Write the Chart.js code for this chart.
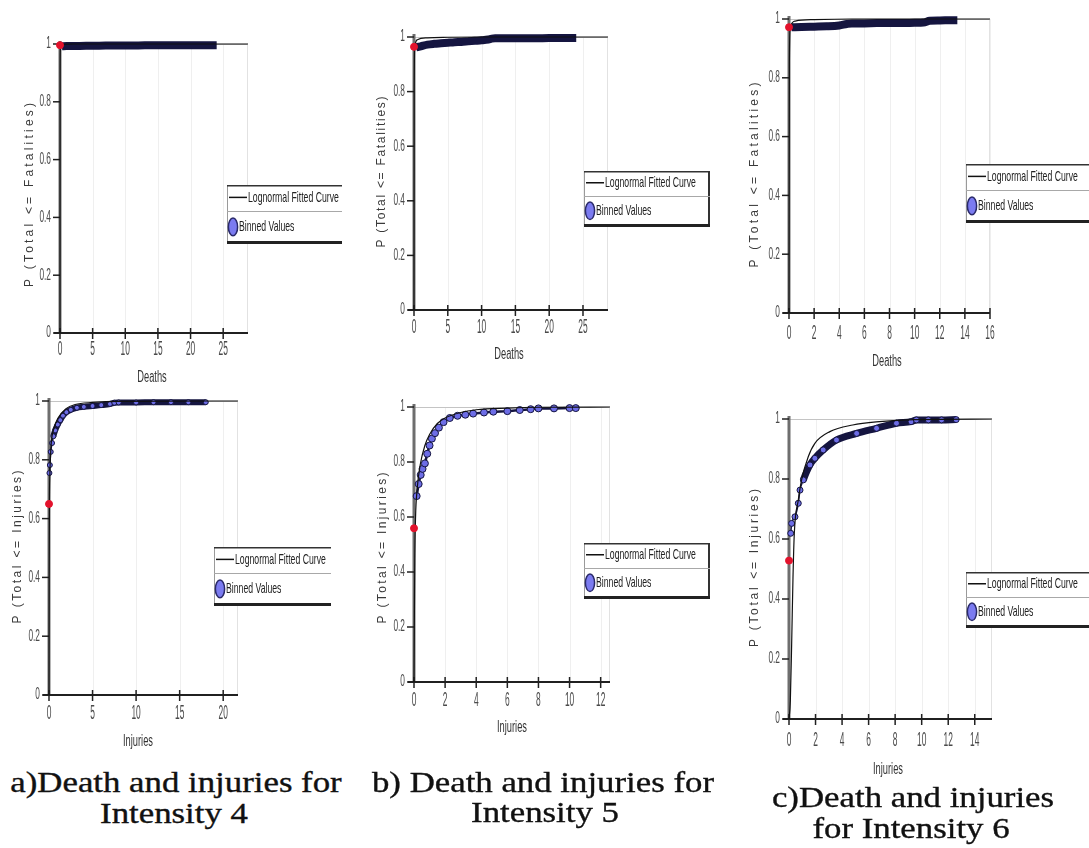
<!DOCTYPE html>
<html lang="en">
<head>
<meta charset="utf-8">
<title>Fatality and injury distributions by intensity</title>
<script src="https://cdn.jsdelivr.net/npm/chart.js@4.4.1/dist/chart.umd.min.js"></script>
<style>
  html, body { margin: 0; padding: 0; background: #fff; }
  body { position: relative; width: 1089px; height: 848px; overflow: hidden; }
  canvas { position: absolute; }
  .cap { position: absolute; width: 500px; text-align: center; white-space: nowrap;
         font-family: "Liberation Serif", "Times New Roman", serif; font-size: 29px; line-height: 31px;
         color: #111; transform: scaleX(1.2); -webkit-text-stroke: 0.35px #111; }
</style>
</head>
<body>
<script>
// ---------- axis ticks ----------
const yTickVals = [0, 0.2, 0.4, 0.6, 0.8, 1];
const yTickText = ['0', '0.2', '0.4', '0.6', '0.8', '1'];

const deathTicksI4 = [0, 5, 10, 15, 20, 25];
const deathTicksI5 = [0, 5, 10, 15, 20, 25];
const deathTicksI6 = [0, 2, 4, 6, 8, 10, 12, 14, 16];
const injuryTicksI4 = [0, 5, 10, 15, 20];
const injuryTicksI5 = [0, 2, 4, 6, 8, 10, 12];
const injuryTicksI6 = [0, 2, 4, 6, 8, 10, 12, 14];

// ---------- intensity 4, deaths ----------
const i4DeathBinX = [0.3, 1, 2, 4, 6, 8, 10, 12, 14, 16, 18, 20, 22, 24];
const i4DeathBinP = [0.992, 0.993, 0.993, 0.994, 0.994, 0.995, 0.995, 0.995, 0.996, 0.996, 0.996, 0.996, 0.996, 0.996];
const i4DeathFirstP = 0.996;
const i4DeathFitX = [0, 0.02, 0.05, 0.1, 0.5, 2, 28.8];
const i4DeathFitP = [0, 0.9, 0.98, 0.995, 0.999, 1, 1];

// ---------- intensity 5, deaths ----------
const i5DeathBinX = [0.3, 1, 2, 3, 4, 5, 6, 7, 8, 9, 10, 11, 11.5, 12, 14, 16, 18, 20, 22, 24];
const i5DeathBinP = [0.962, 0.966, 0.972, 0.975, 0.977, 0.979, 0.981, 0.982, 0.984, 0.986, 0.988, 0.991, 0.994, 0.995, 0.995, 0.995, 0.995, 0.996, 0.996, 0.996];
const i5DeathFirstP = 0.964;
const i5DeathFitX = [0, 0.03, 0.1, 0.5, 2, 5, 10, 28.7];
const i5DeathFitP = [0, 0.8, 0.96, 0.99, 0.997, 0.999, 1, 1];

// ---------- intensity 6, deaths ----------
const i6DeathBinX = [0.2, 1, 2, 3, 4, 4.6, 5, 6, 7, 8, 9, 10, 10.7, 11.2, 12, 13, 13.4];
const i6DeathBinP = [0.972, 0.973, 0.974, 0.975, 0.978, 0.983, 0.985, 0.985, 0.986, 0.986, 0.986, 0.987, 0.988, 0.994, 0.995, 0.996, 0.996];
const i6DeathFirstP = 0.972;
const i6DeathFitX = [0, 0.03, 0.1, 0.5, 2, 5, 16];
const i6DeathFitP = [0, 0.85, 0.97, 0.993, 0.998, 1, 1];

// ---------- intensity 4, injuries ----------
const i4InjBinX = [0.05, 0.1, 0.2, 0.35, 0.5, 0.7, 1.0, 1.3, 1.6, 2.0, 2.5, 3.2, 4, 5, 6, 7, 7.5, 8, 10, 12, 14, 16, 18];
const i4InjBinP = [0.755, 0.782, 0.827, 0.857, 0.88, 0.9, 0.92, 0.935, 0.95, 0.962, 0.97, 0.977, 0.98, 0.983, 0.986, 0.99, 0.994, 0.995, 0.995, 0.996, 0.996, 0.996, 0.996];
const i4InjFirstP = 0.65;
const i4InjFitX = [0, 0.02, 0.05, 0.1, 0.2, 0.3, 0.5, 1, 2, 3, 5, 8, 21.7];
const i4InjFitP = [0, 0.4, 0.65, 0.75, 0.83, 0.87, 0.9, 0.94, 0.975, 0.988, 0.995, 0.999, 1];

// ---------- intensity 5, injuries ----------
const i5InjBinX = [0.17, 0.3, 0.43, 0.55, 0.7, 0.85, 1, 1.15, 1.35, 1.6, 1.9, 2.3, 2.8, 3.3, 3.8, 4.5, 5.1, 6, 6.8, 7.5, 8, 9, 10, 10.4];
const i5InjBinP = [0.676, 0.72, 0.753, 0.775, 0.795, 0.83, 0.86, 0.885, 0.905, 0.925, 0.945, 0.96, 0.968, 0.972, 0.976, 0.98, 0.983, 0.985, 0.989, 0.992, 0.995, 0.995, 0.996, 0.996];
const i5InjFirstP = 0.559;
const i5InjFitX = [0, 0.02, 0.05, 0.1, 0.2, 0.4, 0.7, 1, 1.5, 2, 3, 4, 6, 8, 12.6];
const i5InjFitP = [0, 0.2, 0.45, 0.6, 0.7, 0.79, 0.86, 0.9, 0.94, 0.96, 0.98, 0.99, 0.996, 0.999, 1];

// ---------- intensity 6, injuries ----------
const i6InjBinX = [0.13, 0.2, 0.45, 0.7, 0.83, 1.08, 1.58, 1.95, 2.58, 3.58, 5.1, 6.6, 8.1, 9.2, 9.6, 10.5, 11.5, 12.6];
const i6InjBinP = [0.619, 0.652, 0.674, 0.719, 0.763, 0.797, 0.847, 0.869, 0.897, 0.93, 0.952, 0.969, 0.986, 0.991, 0.997, 0.997, 0.997, 0.998];
const i6InjFirstP = 0.528;
const i6InjFitX = [0, 0.1, 0.2, 0.3, 0.4, 0.7, 0.95, 1.45, 1.95, 3.08, 4.8, 6.8, 9.5, 15.3];
const i6InjFitP = [0, 0.06, 0.25, 0.47, 0.619, 0.73, 0.797, 0.874, 0.919, 0.958, 0.98, 0.991, 0.998, 1];

// ---------- styling ----------
const NAVY = '#151540';
const BLUE = '#6d6de6';
const RED = '#e3122c';
const SANS = '"Liberation Sans", Arial, sans-serif';

// page placement of each panel: canvas [left, top, width, height], plot [left, top(P=1), right, bottom(P=0)]
const panels = [
  { canvas: [0, 18, 342, 372], plot: [60, 44, 248, 333], xMax: 28.8, xTicks: deathTicksI4,
    xTitle: 'Deaths', xTitlePos: [152, 378], yTitle: 'P (Total <= Fatalities)', yTitlePos: [30, 195], yTitleLen: 184,
    xLabelGap: 16, legendBox: [227, 185, 59], band: 8, thinUntil: -1, dot: 0,
    binX: i4DeathBinX, binP: i4DeathBinP, firstP: i4DeathFirstP, fitX: i4DeathFitX, fitP: i4DeathFitP },
  { canvas: [362, 10, 350, 365], plot: [414, 37, 608, 310], xMax: 28.7, xTicks: deathTicksI5,
    xTitle: 'Deaths', xTitlePos: [509, 355], yTitle: 'P (Total <= Fatalities)', yTitlePos: [382, 172], yTitleLen: 151,
    xLabelGap: 17, legendBox: [584, 171, 56], band: 8, thinUntil: -1, dot: 0,
    binX: i5DeathBinX, binP: i5DeathBinP, firstP: i5DeathFirstP, fitX: i5DeathFitX, fitP: i5DeathFitP },
  { canvas: [730, 0, 359, 380], plot: [789, 19, 990, 313], xMax: 16, xTicks: deathTicksI6,
    xTitle: 'Deaths', xTitlePos: [887, 362], yTitle: 'P (Total <= Fatalities)', yTitlePos: [755, 175], yTitleLen: 185,
    xLabelGap: 20, legendBox: [966, 164, 59], band: 8, thinUntil: -1, dot: 0,
    binX: i6DeathBinX, binP: i6DeathBinP, firstP: i6DeathFirstP, fitX: i6DeathFitX, fitP: i6DeathFitP },
  { canvas: [0, 385, 331, 370], plot: [49, 401, 238, 695], xMax: 21.7, xTicks: injuryTicksI4,
    xTitle: 'Injuries', xTitlePos: [138, 742], yTitle: 'P (Total <= Injuries)', yTitlePos: [18, 547], yTitleLen: 153,
    xLabelGap: 18, legendBox: [214, 547, 59], band: 6, thinUntil: 0.6, dot: 2.5,
    binX: i4InjBinX, binP: i4InjBinP, firstP: i4InjFirstP, fitX: i4InjFitX, fitP: i4InjFitP },
  { canvas: [362, 392, 352, 350], plot: [414, 407, 610, 682], xMax: 12.6, xTicks: injuryTicksI5,
    xTitle: 'Injuries', xTitlePos: [512, 728], yTitle: 'P (Total <= Injuries)', yTitlePos: [383, 548], yTitleLen: 151,
    xLabelGap: 18, legendBox: [584, 543, 56], band: 2.5, thinUntil: -1, dot: 3.5,
    binX: i5InjBinX, binP: i5InjBinP, firstP: i5InjFirstP, fitX: i5InjFitX, fitP: i5InjFitP },
  { canvas: [730, 402, 359, 378], plot: [789, 419, 992, 719], xMax: 15.3, xTicks: injuryTicksI6,
    xTitle: 'Injuries', xTitlePos: [888, 770], yTitle: 'P (Total <= Injuries)', yTitlePos: [755, 568], yTitleLen: 158,
    xLabelGap: 21, legendBox: [966, 572, 56], band: 7, thinUntil: 1.2, dot: 3,
    binX: i6InjBinX, binP: i6InjBinP, firstP: i6InjFirstP, fitX: i6InjFitX, fitP: i6InjFitP }
];

const pts = (xs, ys) => xs.map((x, i) => ({ x, y: ys[i] }));

function seg(ctx, x1, y1, x2, y2) {
  ctx.beginPath(); ctx.moveTo(x1, y1); ctx.lineTo(x2, y2); ctx.stroke();
}

// condensed text: regular face squeezed horizontally
function narrow(ctx, text, x, y, size, sx, align, color) {
  ctx.save();
  ctx.font = size + 'px ' + SANS;
  ctx.fillStyle = color;
  ctx.textAlign = align;
  ctx.textBaseline = 'middle';
  ctx.translate(x, y);
  ctx.scale(sx, 1);
  ctx.fillText(text, 0, 0);
  ctx.restore();
}

function makeDecor(p) {
  const ox = p.canvas[0], oy = p.canvas[1];
  return {
    id: 'decor',
    beforeDatasetsDraw(chart) {
      const { ctx, chartArea: a, scales: { x, y } } = chart;
      ctx.save();
      ctx.lineWidth = 1;
      ctx.strokeStyle = '#efefef';
      p.xTicks.forEach(v => {
        if (v > 0) { const px = Math.round(x.getPixelForValue(v)) + 0.5; seg(ctx, px, a.top, px, a.bottom); }
      });
      ctx.strokeStyle = '#c4c4c4';
      seg(ctx, a.left, a.top + 0.5, a.right, a.top + 0.5);
      ctx.strokeStyle = '#e2e2e2';
      seg(ctx, a.right - 0.5, a.top, a.right - 0.5, a.bottom);

      ctx.strokeStyle = '#6e6e6e'; ctx.lineWidth = 3;
      seg(ctx, a.left, a.top - 3, a.left, a.bottom + 1);
      ctx.strokeStyle = '#202020'; ctx.lineWidth = 2;
      seg(ctx, a.left - 6, a.bottom, a.right, a.bottom);

      ctx.lineWidth = 1.5;
      yTickVals.forEach(v => { const py = y.getPixelForValue(v); seg(ctx, a.left - 7, py, a.left, py); });
      p.xTicks.forEach(v => { const px = x.getPixelForValue(v); seg(ctx, px, a.bottom - 5, px, a.bottom + 6); });

      yTickVals.forEach((v, i) => narrow(ctx, yTickText[i], a.left - 9, y.getPixelForValue(v), 16, 0.52, 'right', '#4a4a4a'));
      p.xTicks.forEach(v => narrow(ctx, String(v), x.getPixelForValue(v), a.bottom + p.xLabelGap, 20, 0.42, 'center', '#4a4a4a'));
      ctx.restore();
    },
    afterDraw(chart) {
      const { ctx } = chart;
      const ds = chart.data.datasets;
      ctx.save();
      // axis titles
      narrow(ctx, p.xTitle, p.xTitlePos[0] - ox, p.xTitlePos[1] - oy, 16, 0.58, 'center', '#333');
      ctx.save();
      ctx.translate(p.yTitlePos[0] - ox, p.yTitlePos[1] - oy);
      ctx.rotate(-Math.PI / 2);
      ctx.font = '12px ' + SANS;
      const w0 = ctx.measureText(p.yTitle).width;
      const ls = Math.max(0, (p.yTitleLen - w0) / (p.yTitle.length - 1));
      ctx.letterSpacing = ls.toFixed(2) + 'px';
      ctx.fillStyle = '#3a3a3a';
      ctx.textAlign = 'center';
      ctx.textBaseline = 'middle';
      ctx.fillText(p.yTitle, ls / 2, 0);
      ctx.restore();

      // legend box
      const lx = p.legendBox[0] - ox, ly = p.legendBox[1] - oy, lh = p.legendBox[2], lw = 126;
      ctx.fillStyle = '#fff';
      ctx.fillRect(lx, ly, lw, lh);
      ctx.lineWidth = 1; ctx.strokeStyle = '#9a9a9a';
      seg(ctx, lx + 0.5, ly, lx + 0.5, ly + lh);
      ctx.lineWidth = 2; ctx.strokeStyle = '#333';
      seg(ctx, lx + lw - 1, ly, lx + lw - 1, ly + lh);
      ctx.lineWidth = 1.5; ctx.strokeStyle = '#333';
      seg(ctx, lx, ly + 0.75, lx + lw, ly + 0.75);
      ctx.lineWidth = 1; ctx.strokeStyle = '#a8a8a8';
      seg(ctx, lx, ly + Math.round(lh * 0.44) + 0.5, lx + lw, ly + Math.round(lh * 0.44) + 0.5);
      ctx.lineWidth = 3; ctx.strokeStyle = '#222';
      seg(ctx, lx, ly + lh - 1.5, lx + lw, ly + lh - 1.5);

      const r1 = ly + lh * 0.21, r2 = ly + lh * 0.71;
      ctx.lineWidth = 1.5; ctx.strokeStyle = '#111';
      seg(ctx, lx + 2, r1, lx + 20, r1);
      narrow(ctx, ds[0].label, lx + 21, r1, 15, 0.58, 'left', '#222');
      ctx.beginPath();
      ctx.ellipse(lx + 6, r2, 4.6, 8.8, 0, 0, Math.PI * 2);
      ctx.fillStyle = '#7b7bf0'; ctx.fill();
      ctx.lineWidth = 1.5; ctx.strokeStyle = '#2a2a6a'; ctx.stroke();
      narrow(ctx, ds[1].label, lx + 12, r2, 15, 0.58, 'left', '#222');
      ctx.restore();
    }
  };
}

function addCaption(text, cx, top) {
  const d = document.createElement('div');
  d.className = 'cap';
  d.textContent = text;
  d.style.left = (cx - 250) + 'px';
  d.style.top = top + 'px';
  document.body.appendChild(d);
}

panels.forEach(p => {
  const [cl, ct, cw, ch] = p.canvas;
  const [L, T, R, B] = p.plot;
  const cv = document.createElement('canvas');
  cv.width = cw; cv.height = ch;
  cv.style.left = cl + 'px'; cv.style.top = ct + 'px';
  cv.style.width = cw + 'px'; cv.style.height = ch + 'px';
  document.body.appendChild(cv);

  new Chart(cv, {
    type: 'scatter',
    data: {
      datasets: [
        { label: 'Lognormal Fitted Curve', data: pts(p.fitX, p.fitP), showLine: true,
          borderColor: '#111', borderWidth: 1.2, pointRadius: 0, cubicInterpolationMode: 'monotone',
          clip: false, order: 1 },
        { label: 'Binned Values', data: pts(p.binX, p.binP), showLine: true,
          borderColor: NAVY, borderWidth: p.band, cubicInterpolationMode: 'monotone',
          segment: { borderWidth: c => (c.p1.parsed.x <= p.thinUntil ? 1.5 : p.band) },
          pointRadius: p.dot, pointBackgroundColor: BLUE, pointBorderColor: NAVY, pointBorderWidth: 1,
          clip: false, order: 2 },
        { label: 'First bin', data: [{ x: 0, y: p.firstP }], showLine: false,
          pointRadius: 3.5, pointBackgroundColor: RED, pointBorderColor: RED, pointBorderWidth: 1,
          clip: false, order: 0 }
      ]
    },
    options: {
      responsive: false,
      animation: false,
      devicePixelRatio: 1,
      layout: { padding: { left: L - cl, top: T - ct, right: cl + cw - R, bottom: ct + ch - B } },
      scales: {
        x: { type: 'linear', min: 0, max: p.xMax, display: false },
        y: { type: 'linear', min: 0, max: 1, display: false }
      },
      plugins: { legend: { display: false }, tooltip: { enabled: false } }
    },
    plugins: [makeDecor(p)]
  });
});

addCaption('a)Death and injuries for', 176, 767);
addCaption('Intensity 4', 174, 798);
addCaption('b) Death and injuries for', 542.5, 767);
addCaption('Intensity 5', 544.5, 797);
addCaption('c)Death and injuries', 912.5, 782);
addCaption('for Intensity 6', 911, 813);
</script>
</body>
</html>
